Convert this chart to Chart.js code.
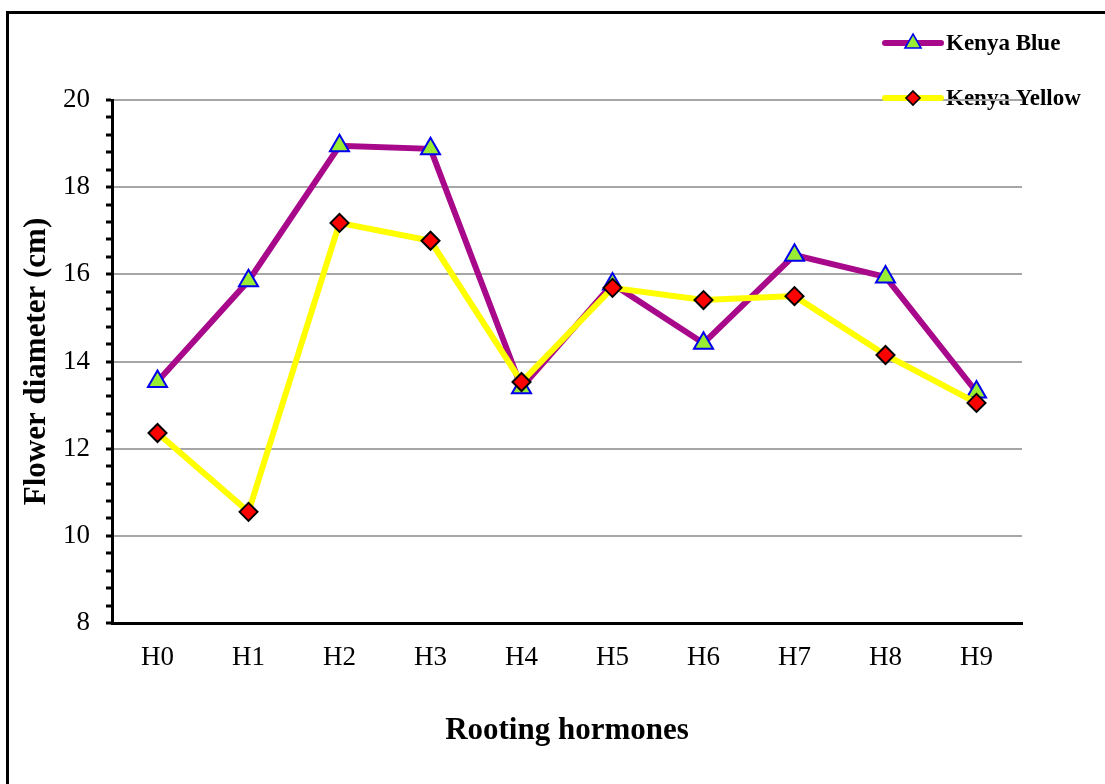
<!DOCTYPE html>
<html>
<head>
<meta charset="utf-8">
<script src="https://cdn.jsdelivr.net/npm/chart.js@4/dist/chart.umd.min.js"></script>
<style>
  html, body { margin: 0; padding: 0; background: #fff; overflow: hidden; }
  #frame {
    position: absolute; left: 6px; top: 11px; width: 1300px; height: 1000px;
    border-left: 3px solid #000; border-top: 3px solid #000;
  }
  #chart { position: absolute; left: 0; top: 0; }
</style>
</head>
<body>
<div id="frame"></div>
<canvas id="chart" width="1105" height="784"></canvas>
<script>
// Flower diameter by rooting hormone treatment, two cultivars
const categories = ['H0', 'H1', 'H2', 'H3', 'H4', 'H5', 'H6', 'H7', 'H8', 'H9'];
const kenyaBlue = [13.54, 15.85, 18.95, 18.88, 13.40, 15.78, 14.42, 16.44, 15.94, 13.30];
const kenyaYellow = [12.36, 10.55, 17.18, 16.77, 13.53, 15.69, 15.41, 15.50, 14.15, 13.05];
const yMin = 8, yMax = 20, yMajorStep = 2, yMinorStep = 0.4;
const seriesNames = ['Kenya Blue', 'Kenya Yellow'];

const PURPLE = '#a8088a';
const YELLOW = '#ffff00';
const GREEN = '#99ee33';
const BLUE = '#0000ee';
const RED = '#ff0000';
const GRID = '#a6a6a6';
const SERIF = '"Times New Roman", "Liberation Serif", serif';

const isMajor = v => Math.abs(v / yMajorStep - Math.round(v / yMajorStep)) < 1e-6;

// Legend geometry (top right, outside plot area)
const legendItems = [
  { text: seriesNames[0], y: 43, color: PURPLE, marker: 'triangle' },
  { text: seriesNames[1], y: 98, color: YELLOW, marker: 'diamond' }
];
const LEG_X0 = 885, LEG_X1 = 941, LEG_TEXT_X = 946;

function drawLegendMarker(ctx, type, x, y) {
  ctx.save();
  ctx.beginPath();
  if (type === 'triangle') {
    ctx.moveTo(x, y - 9);
    ctx.lineTo(x + 8, y + 5);
    ctx.lineTo(x - 8, y + 5);
    ctx.closePath();
    ctx.fillStyle = GREEN; ctx.strokeStyle = BLUE;
  } else {
    ctx.moveTo(x, y - 7);
    ctx.lineTo(x + 7, y);
    ctx.lineTo(x, y + 7);
    ctx.lineTo(x - 7, y);
    ctx.closePath();
    ctx.fillStyle = RED; ctx.strokeStyle = '#000';
  }
  ctx.lineWidth = 1.6;
  ctx.fill(); ctx.stroke();
  ctx.restore();
}

const legendPlugin = {
  id: 'sideLegend',
  beforeDraw(chart) {
    const ctx = chart.ctx;
    ctx.save();
    ctx.font = 'bold 23px ' + SERIF;
    ctx.fillStyle = '#000';
    ctx.textBaseline = 'middle';
    ctx.textAlign = 'left';
    legendItems.forEach(it => ctx.fillText(it.text, LEG_TEXT_X, it.y + 1));
    ctx.restore();
  },
  afterDraw(chart) {
    const ctx = chart.ctx;
    legendItems.forEach(it => {
      ctx.save();
      ctx.strokeStyle = it.color;
      ctx.lineWidth = 6;
      ctx.lineCap = 'round';
      ctx.beginPath();
      ctx.moveTo(LEG_X0, it.y);
      ctx.lineTo(LEG_X1, it.y);
      ctx.stroke();
      ctx.restore();
      drawLegendMarker(ctx, it.marker, (LEG_X0 + LEG_X1) / 2, it.y);
    });
  }
};

new Chart(document.getElementById('chart'), {
  type: 'line',
  data: {
    labels: categories,
    datasets: [
      {
        label: seriesNames[0],
        data: kenyaBlue,
        order: 2,
        borderColor: PURPLE,
        borderWidth: 6,
        pointStyle: 'triangle',
        pointRadius: 11,
        pointBackgroundColor: GREEN,
        pointBorderColor: BLUE,
        pointBorderWidth: 2,
        tension: 0,
        fill: false
      },
      {
        label: seriesNames[1],
        data: kenyaYellow,
        order: 1,
        borderColor: YELLOW,
        borderWidth: 6,
        pointStyle: 'rectRot',
        pointRadius: 9,
        pointBackgroundColor: RED,
        pointBorderColor: '#000',
        pointBorderWidth: 2,
        tension: 0,
        fill: false
      }
    ]
  },
  options: {
    responsive: false,
    animation: false,
    devicePixelRatio: 1,
    layout: { padding: { left: 0, top: 100, right: 83, bottom: 0 } },
    plugins: {
      legend: { display: false },
      tooltip: { enabled: false }
    },
    scales: {
      x: {
        offset: true,
        grid: { color: 'transparent', drawTicks: false },
        border: { display: true, color: '#000', width: 3 },
        ticks: {
          color: '#000',
          padding: 19,
          font: { family: SERIF, size: 27 }
        },
        title: {
          display: true,
          text: 'Rooting hormones',
          color: '#000',
          font: { family: SERIF, size: 31, weight: 'bold' },
          padding: { top: 0, bottom: 34 }
        },
        afterFit(scale) { scale.height = 161; }
      },
      y: {
        min: yMin,
        max: yMax,
        grid: {
          color: ctx => (ctx.tick && isMajor(ctx.tick.value) && ctx.tick.value !== yMin) ? GRID : 'transparent',
          lineWidth: 2,
          tickColor: '#000',
          tickLength: 6,
          tickWidth: 3
        },
        border: { display: true, color: '#000', width: 3 },
        ticks: {
          stepSize: yMinorStep,
          autoSkip: false,
          color: '#000',
          padding: 16,
          font: { family: SERIF, size: 27 },
          callback: v => isMajor(v) ? String(Math.round(v)) : ''
        },
        title: {
          display: true,
          text: 'Flower diameter (cm)',
          color: '#000',
          font: { family: SERIF, size: 31, weight: 'bold' },
          padding: { top: 18, bottom: 0 }
        },
        afterFit(scale) { scale.width = 112; }
      }
    }
  },
  plugins: [legendPlugin]
});
</script>
</body>
</html>
